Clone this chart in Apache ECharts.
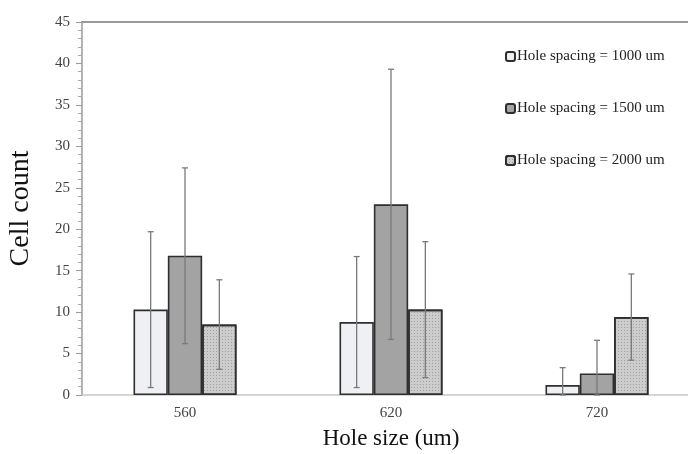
<!DOCTYPE html>
<html>
<head>
<meta charset="utf-8">
<script src="https://cdn.jsdelivr.net/npm/echarts@6/dist/echarts.min.js"></script>
<style>html,body{margin:0;padding:0;background:#fff}#c{width:688px;height:454px}</style>
</head>
<body>
<div id="c"></div>
<script>
const categories = ['560', '620', '720'];
const seriesNames = ['Hole spacing = 1000 um', 'Hole spacing = 1500 um', 'Hole spacing = 2000 um'];
const means1000 = [10.3, 8.8, 1.2];
const err1000 = [9.4, 7.9, 2.1];
const means1500 = [16.8, 23.0, 2.6];
const err1500 = [10.6, 16.3, 4.0];
const means2000 = [8.5, 10.3, 9.4];
const err2000 = [5.4, 8.2, 5.2];
const yTicks = [0, 5, 10, 15, 20, 25, 30, 35, 40, 45];

const FONT = '"Liberation Serif", "DejaVu Serif", serif';
const means = [means1000, means1500, means2000];
const errs = [err1000, err1500, err2000];
const fills = ['#eef0f4', '#a3a3a3', '#cdcdcd'];

const chart = echarts.init(document.getElementById('c'));

function errSeries(idx) {
  const data = categories.map((c, i) => [i, means[idx][i], errs[idx][i]]);
  return {
    type: 'custom',
    name: seriesNames[idx] + ' err',
    z: 10,
    data: data,
    renderItem: function (params, api) {
      const ci = api.value(0);
      const m = api.value(1), e = api.value(2);
      const center = api.coord([ci, 0]);
      const bandW = api.size([1, 0])[0];
      const barW = bandW / 6;
      const x = center[0] + (idx - 1) * barW;
      const top = api.coord([ci, m + e])[1];
      const bot = api.coord([ci, Math.max(0, m - e)])[1];
      const cap = 3;
      const st = { stroke: '#7a7a7a', lineWidth: 1.3 };
      return {
        type: 'group',
        children: [
          { type: 'line', shape: { x1: x, y1: top, x2: x, y2: bot }, style: st },
          { type: 'line', shape: { x1: x - cap, y1: top, x2: x + cap, y2: top }, style: st },
          { type: 'line', shape: { x1: x - cap, y1: bot, x2: x + cap, y2: bot }, style: st }
        ]
      };
    }
  };
}

const barSeries = [0, 1, 2].map(idx => ({
  type: 'bar',
  name: seriesNames[idx],
  data: means[idx],
  barGap: '0%',
  barCategoryGap: '50%',
  itemStyle: Object.assign({
    color: fills[idx],
    borderColor: '#2e2e2e',
    borderWidth: 1.6
  }, idx === 2 ? {
    decal: { symbol: 'rect', symbolSize: 1, dashArrayX: [1, 2], dashArrayY: [1, 2], color: 'rgba(120,120,120,0.55)', rotation: 0 }
  } : {})
}));

chart.setOption({
  animation: false,
  backgroundColor: '#fff',
  grid: { left: 82, top: 22, bottom: 59, right: -12, outerBoundsMode: 'none', containLabel: false },
  legend: {
    orient: 'vertical',
    left: 500,
    top: 44,
    itemGap: 37,
    itemWidth: 9,
    itemHeight: 9,
    data: seriesNames,
    textStyle: { fontFamily: FONT, fontSize: 15, color: '#222', padding: [0, 0, 0, -3] }
  },
  xAxis: [{
    type: 'category',
    data: categories,
    axisTick: { show: false },
    axisLine: { lineStyle: { color: '#c8c8c8', width: 1.5 } },
    axisLabel: { fontFamily: FONT, fontSize: 15, color: '#444', margin: 11 },
    name: 'Hole size (um)',
    nameLocation: 'middle',
    nameGap: 32,
    nameTextStyle: { fontFamily: FONT, fontSize: 23, color: '#111' }
  }, {
    type: 'category',
    position: 'top',
    data: categories,
    axisTick: { show: false },
    axisLabel: { show: false },
    axisLine: { show: true, onZero: false, lineStyle: { color: '#9a9a9a', width: 2 } }
  }],
  yAxis: {
    type: 'value',
    min: yTicks[0],
    max: yTicks[yTicks.length - 1],
    interval: 5,
    axisLine: { show: true, lineStyle: { color: '#9a9a9a', width: 1.5 } },
    axisTick: { show: true, length: 6, lineStyle: { color: '#9a9a9a' } },
    minorTick: { show: true, splitNumber: 5, length: 4, lineStyle: { color: '#aaa' } },
    splitLine: { show: false },
    axisLabel: { fontFamily: FONT, fontSize: 15, color: '#444', margin: 12 },
    name: 'Cell count',
    nameLocation: 'middle',
    nameGap: 47,
    nameRotate: 90,
    nameTextStyle: { fontFamily: FONT, fontSize: 28, color: '#111' }
  },
  series: barSeries.concat([errSeries(0), errSeries(1), errSeries(2)])
});
</script>
</body>
</html>
